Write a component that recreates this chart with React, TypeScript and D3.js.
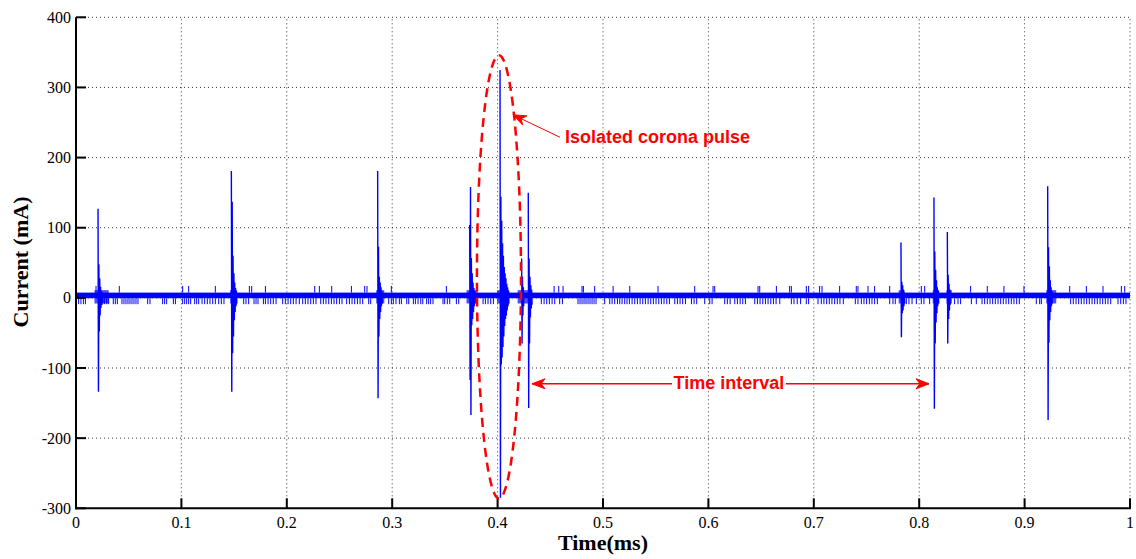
import React from "react";
import * as d3 from "d3";

// ---------- data ----------
const xTicks = [0, 0.1, 0.2, 0.3, 0.4, 0.5, 0.6, 0.7, 0.8, 0.9, 1];
const xTickLabels = ["0", "0.1", "0.2", "0.3", "0.4", "0.5", "0.6", "0.7", "0.8", "0.9", "1"];
const yTicks = [-300, -200, -100, 0, 100, 200, 300, 400];
const yTickLabels = ["-300", "-200", "-100", "0", "100", "200", "300", "400"];

// baseline noise band (mA)
const bandRange = [-0.5, 7.5];
const upSpikeTop = 17;
const downSpikeBottom = -9;

const upSpikeTimes = [
  0.019, 0.0411, 0.1012, 0.1069, 0.1322, 0.1645, 0.1667, 0.1797, 0.2265, 0.2309, 0.2426, 0.2613, 0.2739,
  0.2761, 0.2992, 0.3514, 0.4536, 0.458, 0.4621, 0.4801, 0.4814, 0.4921, 0.5096, 0.5254, 0.5522, 0.587,
  0.6044, 0.606, 0.6471, 0.6487, 0.6645, 0.6771, 0.6787, 0.6929, 0.6951, 0.7055, 0.7078, 0.7245, 0.7403,
  0.7419, 0.7514, 0.7577, 0.772, 0.802, 0.8052, 0.8488, 0.8646, 0.8804, 0.8994, 0.9428, 0.9586, 0.9744,
  0.9918, 0.995,
];

const downSpikeTimes = [
  0.0025, 0.0047, 0.007, 0.0089, 0.0247, 0.0269, 0.0291, 0.031, 0.0354, 0.0373, 0.0392, 0.0436, 0.0455,
  0.0474, 0.0493, 0.0512, 0.0531, 0.055, 0.0569, 0.0588, 0.068, 0.0702, 0.0822, 0.0841, 0.086, 0.0924,
  0.0943, 0.1012, 0.1031, 0.105, 0.1069, 0.1088, 0.1126, 0.1145, 0.1164, 0.1196, 0.1221, 0.1246, 0.1271,
  0.1297, 0.1322, 0.1354, 0.1379, 0.1404, 0.1518, 0.1591, 0.1613, 0.1638, 0.1689, 0.1708, 0.1727, 0.1778,
  0.1797, 0.1822, 0.1847, 0.1872, 0.1898, 0.1961, 0.1986, 0.2012, 0.2037, 0.2062, 0.2088, 0.2119, 0.2151,
  0.2176, 0.2201, 0.2227, 0.2252, 0.2277, 0.2322, 0.2347, 0.2372, 0.2398, 0.2423, 0.2448, 0.2473, 0.2499,
  0.2524, 0.2568, 0.2594, 0.2619, 0.2644, 0.267, 0.2695, 0.272, 0.2777, 0.2796, 0.2967, 0.2992, 0.3011,
  0.3036, 0.3068, 0.3087, 0.3138, 0.3157, 0.3201, 0.322, 0.3245, 0.3271, 0.329, 0.3327, 0.3346, 0.3365,
  0.3387, 0.3482, 0.3498, 0.3523, 0.3546, 0.3609, 0.3631, 0.3862, 0.3884, 0.3909, 0.3935, 0.396, 0.4415,
  0.4441, 0.4466, 0.4491, 0.4517, 0.4542, 0.4589, 0.4615, 0.4763, 0.4782, 0.4801, 0.482, 0.4839, 0.4858,
  0.4877, 0.4896, 0.4915, 0.4934, 0.5016, 0.5064, 0.5086, 0.5111, 0.5137, 0.5159, 0.5181, 0.5206, 0.5228,
  0.525, 0.5276, 0.5301, 0.5326, 0.5352, 0.5377, 0.5402, 0.5428, 0.5453, 0.5478, 0.5503, 0.5529, 0.5554,
  0.5579, 0.5605, 0.563, 0.5681, 0.5706, 0.5731, 0.5756, 0.5782, 0.5839, 0.5864, 0.5889, 0.5965, 0.6013,
  0.6035, 0.6155, 0.618, 0.6206, 0.625, 0.6275, 0.6301, 0.6326, 0.6351, 0.644, 0.6465, 0.649, 0.6516,
  0.6541, 0.6566, 0.6592, 0.6617, 0.6642, 0.6677, 0.6787, 0.6812, 0.6843, 0.6875, 0.6929, 0.6951, 0.704,
  0.7071, 0.7096, 0.7122, 0.7147, 0.7172, 0.7198, 0.7223, 0.7248, 0.728, 0.7394, 0.7419, 0.7451, 0.7476,
  0.7501, 0.7527, 0.7552, 0.7577, 0.7603, 0.772, 0.7751, 0.7773, 0.7878, 0.7903, 0.7932, 0.7973, 0.802,
  0.8045, 0.8099, 0.8336, 0.8368, 0.8393, 0.8495, 0.8542, 0.8596, 0.8621, 0.8646, 0.8672, 0.8697, 0.8722,
  0.8748, 0.8773, 0.8798, 0.8824, 0.8849, 0.8874, 0.8899, 0.8925, 0.895, 0.9111, 0.9143, 0.9159, 0.9437,
  0.9462, 0.9488, 0.9513, 0.9538, 0.9564, 0.9589, 0.9614, 0.964, 0.9665, 0.969, 0.9716, 0.9741, 0.9766,
  0.9791, 0.9817, 0.9886, 0.9912, 0.9937, 0.9962,
];

// dense noise bursts around the pulses [start, end] (ms) and their range (mA)
const burstStarts = [0.0175, 0.1462, 0.2848, 0.3705, 0.3995, 0.419, 0.7805, 0.8128, 0.8258, 0.9205];
const burstEnds = [0.031, 0.1525, 0.2925, 0.381, 0.411, 0.432, 0.786, 0.819, 0.831, 0.93];
const burstRange = [-8, 11];

// corona pulses: start time (ms) and successive damped samples (mA)
const sampleStep = 0.0004;
const pulseTimes = [0.0209, 0.1474, 0.2862, 0.3735, 0.4023, 0.4228, 0.4291, 0.7827, 0.814, 0.8267, 0.9219];
const pulseSamples = [
  [127, -134, 48, -48, 28, -25, 16, -14, 10, -10, 8, -6],
  [181, -134, 137, -79, 60, -55, 35, -32, 22, -20, 14, -12, 10, -8],
  [181, -143, 73, -55, 30, -30, 22, -20, 15, -12, 10, -8],
  [104, -117, 158, -167, 57, -39, 35, -30, 22, -20, 14, -12, 10, -8],
  [325, -285, 144, -95, 110, -85, 78, -70, 60, -55, 44, -40, 35, -30, 28, -25, 20, -18, 15, -12, 10, -8],
  [56, -65, 30, -25, 15, -12],
  [150, -157, 56, -65, 30, -28, 18, -15, 12, -10],
  [79, -56, 23, -22, 18, -18, 12, -12, 8, -8],
  [143, -158, 66, -65, 40, -35, 25, -22, 15, -12, 10, -8],
  [94, -65, 33, -30, 20, -18, 12, -10],
  [159, -174, 72, -64, 45, -32, 25, -20, 15, -12, 10, -8],
];

// annotations (data coordinates)
const ellipseCenter = [0.4013, 30];
const ellipseRadii = [0.0209, 316];
const pulseLabel = "Isolated corona pulse";
const pulseLabelPos = [0.464, 229];
const pulseArrowFrom = [0.4592, 229];
const pulseArrowTo = [0.4146, 261];
const intervalLabel = "Time interval";
const intervalLabelPos = [0.6195, -121];
const intervalArrowLeft = [[0.5655, -122.5], [0.4326, -122.5]];
const intervalArrowRight = [[0.6736, -122.5], [0.8093, -122.5]];

// ---------- chart ----------
const W = 1136;
const H = 559;
const x = d3.scaleLinear().domain([0, 1]).range([76, 1130]);
const y = d3.scaleLinear().domain([-300, 400]).range([508.3, 17.3]);

const BLUE = "#0000ff";
const RED = "#ff0000";

function arrowHead(from: number[], to: number[]) {
  const x1 = x(from[0]), y1 = y(from[1]);
  const x2 = x(to[0]), y2 = y(to[1]);
  const dx = x2 - x1, dy = y2 - y1;
  const len = Math.hypot(dx, dy);
  const ux = dx / len, uy = dy / len;
  const nx = -uy, ny = ux;
  const L = 13, Wd = 5;
  const p = [
    [x2, y2],
    [x2 - L * ux + Wd * nx, y2 - L * uy + Wd * ny],
    [x2 - L * 0.7 * ux, y2 - L * 0.7 * uy],
    [x2 - L * ux - Wd * nx, y2 - L * uy - Wd * ny],
  ];
  return "M" + p.map((q) => q.join(",")).join("L") + "Z";
}

function Arrow({ from, to, width }: { from: number[]; to: number[]; width: number }) {
  return (
    <g>
      <line x1={x(from[0])} y1={y(from[1])} x2={x(to[0])} y2={y(to[1])} stroke={RED} strokeWidth={width} />
      <path d={arrowHead(from, to)} fill={RED} stroke={RED} strokeWidth={1} />
    </g>
  );
}

export default function App() {
  const pulsePaths = pulseTimes.map((t0, k) => {
    const pts = pulseSamples[k].map((v, i) => [x(t0 + i * sampleStep), y(v)] as [number, number]);
    return d3.line()(pts) as string;
  });

  const [x0, x1] = x.range();
  const [yb, yt] = y.range();

  return (
    <div style={{ position: "absolute", left: 0, top: 0, width: W, height: H, background: "#fff" }}>
      <svg width={W} height={H} style={{ display: "block" }}>
        <rect x={0} y={0} width={W} height={H} fill="#fff" />
        {/* grid */}
        <g stroke="#000" strokeOpacity={0.8} strokeWidth={1} strokeDasharray="1,3">
          {xTicks.slice(1).map((t) => (
            <line key={"gx" + t} x1={x(t)} x2={x(t)} y1={yb} y2={yt} />
          ))}
          {yTicks.slice(1).map((v) => (
            <line key={"gy" + v} x1={x0} x2={x1} y1={y(v)} y2={y(v)} />
          ))}
        </g>

        {/* baseline noise band */}
        <rect
          x={x(0)}
          width={x(1) - x(0)}
          y={y(bandRange[1])}
          height={y(bandRange[0]) - y(bandRange[1])}
          fill={BLUE}
        />
        <g stroke={BLUE} strokeWidth={1}>
          {upSpikeTimes.map((t, i) => (
            <line key={"u" + i} x1={x(t)} x2={x(t)} y1={y(bandRange[1])} y2={y(upSpikeTop)} />
          ))}
          {downSpikeTimes.map((t, i) => (
            <line key={"d" + i} x1={x(t)} x2={x(t)} y1={y(bandRange[0])} y2={y(downSpikeBottom)} />
          ))}
        </g>
        <g fill={BLUE}>
          {burstStarts.map((s, i) => (
            <rect
              key={"b" + i}
              x={x(s)}
              width={x(burstEnds[i]) - x(s)}
              y={y(burstRange[1])}
              height={y(burstRange[0]) - y(burstRange[1])}
              fillOpacity={0.7}
            />
          ))}
        </g>

        {/* pulses */}
        <g fill="none" stroke={BLUE} strokeWidth={1.4}>
          {pulsePaths.map((d, i) => (
            <path key={"p" + i} d={d} />
          ))}
        </g>

        {/* axes */}
        <g stroke="#000" strokeWidth={2}>
          <line x1={x0} x2={x0} y1={yt} y2={yb + 1} />
          <line x1={x0 - 1} x2={x1 + 1} y1={yb} y2={yb} />
          {xTicks.map((t) => (
            <line key={"tx" + t} x1={x(t)} x2={x(t)} y1={yb} y2={yb - 10} />
          ))}
          {yTicks.map((v) => (
            <line key={"ty" + v} x1={x0} x2={x0 + 10} y1={y(v)} y2={y(v)} />
          ))}
        </g>
        <g fontFamily="'Liberation Serif', 'Times New Roman', serif" fontSize={16} fill="#000">
          {xTicks.map((t, i) => (
            <text key={"lx" + t} x={x(t)} y={yb + 20} textAnchor="middle">
              {xTickLabels[i]}
            </text>
          ))}
          {yTicks.map((v, i) => (
            <text key={"ly" + v} x={x0 - 5} y={y(v) + 5.5} textAnchor="end">
              {yTickLabels[i]}
            </text>
          ))}
        </g>
        <text
          x={(x0 + x1) / 2}
          y={550}
          textAnchor="middle"
          fontFamily="'Liberation Serif', 'Times New Roman', serif"
          fontWeight="bold"
          fontSize={22}
        >
          Time(ms)
        </text>
        <text
          transform={`translate(28, 262) rotate(-90)`}
          textAnchor="middle"
          fontFamily="'Liberation Serif', 'Times New Roman', serif"
          fontWeight="bold"
          fontSize={22}
        >
          Current (mA)
        </text>

        {/* annotations */}
        <ellipse
          cx={x(ellipseCenter[0])}
          cy={y(ellipseCenter[1])}
          rx={x(ellipseCenter[0] + ellipseRadii[0]) - x(ellipseCenter[0])}
          ry={y(ellipseCenter[1]) - y(ellipseCenter[1] + ellipseRadii[1])}
          fill="none"
          stroke={RED}
          strokeWidth={2.5}
          strokeDasharray="9,6"
        />
        <Arrow from={pulseArrowFrom} to={pulseArrowTo} width={1} />
        <text
          x={x(pulseLabelPos[0])}
          y={y(pulseLabelPos[1])}
          dominantBaseline="central"
          fontFamily="'Liberation Sans', Arial, sans-serif"
          fontWeight="bold"
          fontSize={18}
          fill={RED}
        >
          {pulseLabel}
        </text>
        <Arrow from={intervalArrowLeft[0]} to={intervalArrowLeft[1]} width={1.5} />
        <Arrow from={intervalArrowRight[0]} to={intervalArrowRight[1]} width={1.5} />
        <text
          x={x(intervalLabelPos[0])}
          y={y(intervalLabelPos[1])}
          dominantBaseline="central"
          textAnchor="middle"
          fontFamily="'Liberation Sans', Arial, sans-serif"
          fontWeight="bold"
          fontSize={18}
          fill={RED}
        >
          {intervalLabel}
        </text>
      </svg>
    </div>
  );
}
